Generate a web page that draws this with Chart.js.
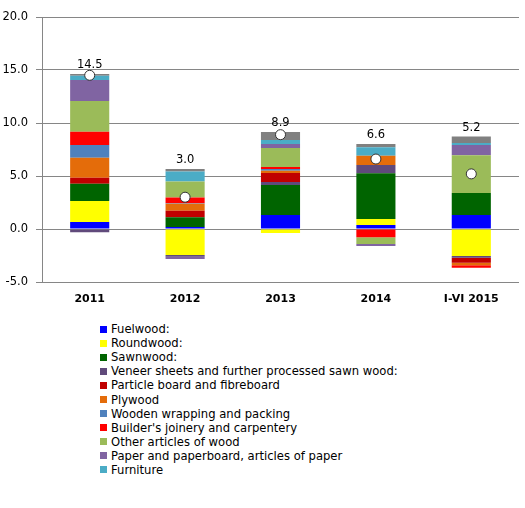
<!DOCTYPE html>
<html>
<head>
<meta charset="utf-8">
<script src="https://cdn.jsdelivr.net/npm/chart.js@4/dist/chart.umd.min.js"></script>
<style>
  html, body { margin: 0; padding: 0; background: #fff; }
  #wrap { position: relative; width: 525px; height: 508px; }
  #chart-box { position: absolute; left: 0; top: 0; width: 525px; height: 312px; }
  #legend { position: absolute; left: 100px; top: 322px; font: 11.6px "DejaVu Sans", sans-serif; color: #000; }
  .item { height: 14.1px; display: flex; align-items: center; white-space: nowrap; }
  .swatch { width: 7px; height: 7px; margin-right: 4px; flex: none; }
</style>
</head>
<body>
<div id="wrap">
  <div id="chart-box"><canvas id="chart"></canvas></div>
  <div id="legend"></div>
</div>
<script>
const categories = ['2011', '2012', '2013', '2014', 'I-VI 2015'];
const yTicks = [-5, 0, 5, 10, 15, 20];

const fuelwood = [0.66, 0.19, 1.32, 0.38, 1.32];
const roundwood = [1.98, -2.45, -0.38, 0.57, -2.55];
const sawnwood = [1.63, 0.92, 2.83, 4.31, 2.08];
const veneer = [-0.3, -0.16, 0.28, 0.78, -0.16];
const particleBoard = [0.57, 0.62, 0.85, 0, -0.47];
const plywood = [1.89, 0.66, 0.22, 0.88, -0.25];
const wrapping = [1.2, 0.05, 0.16, 0, 0];
const joinery = [1.25, 0.53, 0.19, -0.78, -0.23];
const otherWood = [2.9, 1.51, 1.79, -0.63, 3.56];
const paper = [1.98, -0.22, 0.38, -0.19, 0.97];
const furniture = [0.4, 0.94, 0.38, 0.79, 0.19];
const otherGoods = [0.16, 0.25, 0.75, 0.31, 0.6];
const netTotal = [14.5, 3.0, 8.9, 6.6, 5.2];

const FONT = '"DejaVu Sans", sans-serif';
const GRID = '#868686';

function bar(label, data, color, inLegend = true) {
  return { type: 'bar', label, data, backgroundColor: color, borderWidth: 0, order: 1, inLegend };
}

const datasets = [
  bar('Fuelwood:', fuelwood, '#0000ff'),
  bar('Roundwood:', roundwood, '#ffff00'),
  bar('Sawnwood:', sawnwood, '#006400'),
  bar('Veneer sheets and further processed sawn wood:', veneer, '#604a7b'),
  bar('Particle board and fibreboard', particleBoard, '#c00000'),
  bar('Plywood', plywood, '#e46c0a'),
  bar('Wooden wrapping and packing', wrapping, '#4f81bd'),
  bar("Builder's joinery and carpentery", joinery, '#ff0000'),
  bar('Other articles of wood', otherWood, '#9bbb59'),
  bar('Paper and paperboard, articles of paper', paper, '#8064a2'),
  bar('Furniture', furniture, '#4bacc6'),
  bar('Other', otherGoods, '#808080', false),
  {
    type: 'line', label: 'Total', data: netTotal, stack: 'net', order: 0,
    showLine: false, pointRadius: 5, pointBackgroundColor: '#fff',
    pointBorderColor: '#333', pointBorderWidth: 1, inLegend: false
  }
];

// net value written above the top of each positive stack
const topLabels = {
  id: 'topLabels',
  afterDatasetsDraw(chart) {
    const { ctx, scales: { x, y } } = chart;
    ctx.save();
    ctx.font = '11.5px ' + FONT;
    ctx.fillStyle = '#000';
    ctx.textAlign = 'center';
    ctx.textBaseline = 'alphabetic';
    categories.forEach((c, i) => {
      let top = 0;
      chart.data.datasets.forEach(ds => {
        if (ds.type === 'bar' && ds.data[i] > 0) top += ds.data[i];
      });
      ctx.fillText(netTotal[i].toFixed(1), x.getPixelForValue(i), y.getPixelForValue(top) - 6);
    });
    ctx.restore();
  }
};

const chart = new Chart(document.getElementById('chart'), {
  data: { labels: categories, datasets },
  plugins: [topLabels],
  options: {
    responsive: true,
    maintainAspectRatio: false,
    animation: false,
    layout: { padding: { top: 17, right: 3, bottom: 0, left: 0 } },
    plugins: { legend: { display: false }, tooltip: { enabled: false } },
    datasets: { bar: { barPercentage: 0.41, categoryPercentage: 1 } },
    scales: {
      x: {
        stacked: true,
        grid: { display: false, drawTicks: false },
        border: { display: false },
        ticks: { color: '#000', font: { family: FONT, size: 11, weight: 'bold' }, padding: 11 },
        afterFit: s => { s.height = 30; }
      },
      y: {
        stacked: true,
        min: -5,
        max: 20,
        afterBuildTicks: s => { s.ticks = yTicks.map(v => ({ value: v })); },
        grid: { color: GRID, tickLength: 6 },
        border: { display: true, color: GRID },
        ticks: { color: '#000', padding: 8, font: { family: FONT, size: 11.5 }, callback: v => v.toFixed(1) },
        afterFit: s => { s.width = 42; }
      }
    }
  }
});

const legendBox = document.getElementById('legend');
chart.data.datasets.filter(ds => ds.inLegend).forEach(ds => {
  const item = document.createElement('div');
  item.className = 'item';
  const sw = document.createElement('span');
  sw.className = 'swatch';
  sw.style.background = ds.backgroundColor;
  const txt = document.createElement('span');
  txt.textContent = ds.label;
  item.appendChild(sw);
  item.appendChild(txt);
  legendBox.appendChild(item);
});
</script>
</body>
</html>
